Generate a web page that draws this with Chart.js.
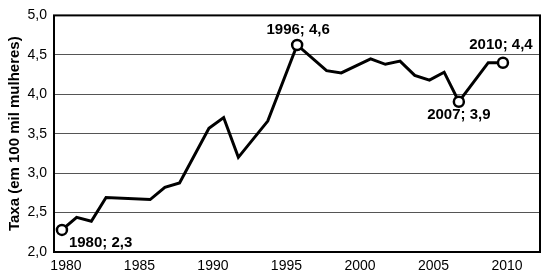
<!DOCTYPE html>
<html lang="pt">
<head>
<meta charset="utf-8">
<style>
  html, body { margin: 0; padding: 0; background: #fff; }
  #wrap { width: 550px; height: 278px; }
</style>
</head>
<body>
<div id="wrap"><canvas id="myChart"></canvas></div>
<script src="https://cdn.jsdelivr.net/npm/chart.js"></script>
<script>
// vertices (years between straight segments omitted)
const years = [1980, 1981, 1982, 1983, 1986, 1987, 1988, 1990, 1991, 1992, 1994, 1996,
               1998, 1999, 2001, 2002, 2003, 2004, 2005, 2006, 2007, 2009, 2010];
const rates = [2.28, 2.44, 2.39, 2.69, 2.665, 2.82, 2.875, 3.57, 3.705, 3.20, 3.66, 4.625,
               4.30, 4.27, 4.45, 4.38, 4.42, 4.24, 4.18, 4.28, 3.905, 4.40, 4.40];

// highlighted points and their captions
const markYears = [1980, 1996, 2007, 2010];
const markTexts = ['1980; 2,3', '1996; 4,6', '2007; 3,9', '2010; 4,4'];

const xTicks = [1980, 1985, 1990, 1995, 2000, 2005, 2010];
const yTicks = [2.0, 2.5, 3.0, 3.5, 4.0, 4.5, 5.0];

const points = years.map((y, i) => ({ x: y, y: rates[i] }));
const radii = years.map(y => markYears.includes(y) ? 5 : 0);

const FONT = "'Liberation Sans', Arial, sans-serif";

// caption placement relative to its marker: [dx, dy, align]
const captionPos = [[7, 13, 'left'], [1, -15, 'center'], [0, 13, 'center'], [-2, -18, 'center']];

const captions = {
  id: 'captions',
  afterDatasetsDraw(chart) {
    const { ctx, scales: { x, y } } = chart;
    ctx.save();
    ctx.font = 'bold 15px ' + FONT;
    ctx.fillStyle = '#000';
    ctx.textBaseline = 'middle';
    markYears.forEach((yr, i) => {
      const v = rates[years.indexOf(yr)];
      const [dx, dy, align] = captionPos[i];
      ctx.textAlign = align;
      ctx.fillText(markTexts[i], x.getPixelForValue(yr) + dx, y.getPixelForValue(v) + dy);
    });
    ctx.restore();
  },
  afterDraw(chart) {
    const { ctx, chartArea: a } = chart;
    ctx.save();
    ctx.strokeStyle = '#000';
    ctx.lineWidth = 2;
    ctx.strokeRect(a.left, a.top, a.right - a.left, a.bottom - a.top);
    ctx.restore();
  }
};

new Chart(document.getElementById('myChart'), {
  type: 'line',
  data: {
    datasets: [{
      data: points,
      borderColor: '#000',
      borderWidth: 3,
      tension: 0,
      pointRadius: radii,
      pointBorderWidth: 2.5,
      pointBackgroundColor: '#fff',
      pointBorderColor: '#000'
    }]
  },
  options: {
    responsive: true,
    maintainAspectRatio: false,
    animation: false,
    layout: { padding: { top: 12, right: 10, left: 0, bottom: 0 } },
    plugins: { legend: { display: false }, tooltip: { enabled: false } },
    scales: {
      x: {
        type: 'linear',
        min: 1979.46,
        max: 2012.52,
        afterBuildTicks: s => { s.ticks = xTicks.map(v => ({ value: v })); },
        afterFit: s => { s.height = 26; },
        grid: { display: false, drawTicks: false },
        border: { display: false },
        ticks: {
          padding: 6,
          labelOffset: 4,
          color: '#000',
          font: { family: FONT, size: 14 },
          callback: v => String(v)
        }
      },
      y: {
        min: 2,
        max: 5,
        afterBuildTicks: s => { s.ticks = yTicks.map(v => ({ value: v })); },
        afterFit: s => { s.width = 54; },
        grid: { color: '#555', lineWidth: 1, drawTicks: false },
        border: { display: false },
        ticks: {
          padding: 7,
          color: '#000',
          font: { family: FONT, size: 14 },
          callback: v => v.toFixed(1).replace('.', ',')
        },
        title: {
          display: true,
          text: 'Taxa (em 100 mil mulheres)',
          color: '#000',
          font: { family: FONT, size: 15, weight: 'bold' },
          padding: { top: 6, bottom: 0 }
        }
      }
    }
  },
  plugins: [captions]
});
</script>
</body>
</html>
